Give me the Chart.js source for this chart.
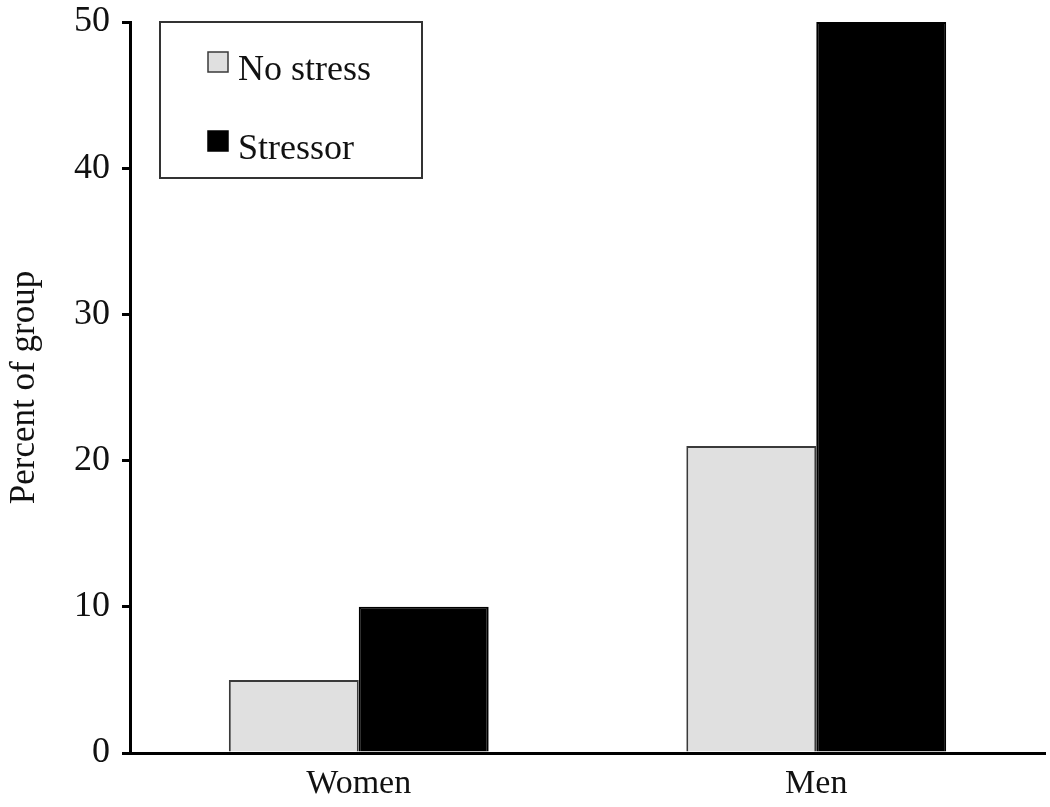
<!DOCTYPE html>
<html>
<head>
<meta charset="utf-8">
<script src="https://cdn.jsdelivr.net/npm/chart.js@4/dist/chart.umd.min.js"></script>
<style>
  html, body { margin: 0; padding: 0; background: #fff; }
  #wrap { width: 1050px; height: 807px; position: relative; }
</style>
</head>
<body>
<div id="wrap"><canvas id="chart"></canvas></div>
<script>
const groups = ["Women", "Men"];
const noStress = [5, 21];
const stressor = [10, 50];
const yTicks = [0, 10, 20, 30, 40, 50];

const serif = "'Liberation Serif', 'DejaVu Serif', serif";

// legend drawn inside the plot, in a framed box top-left
const boxLegend = {
  id: "boxLegend",
  afterDraw(chart) {
    const ctx = chart.ctx;
    ctx.save();
    ctx.fillStyle = "#fff";
    ctx.fillRect(160, 22, 262, 156);
    ctx.strokeStyle = "#333";
    ctx.lineWidth = 2;
    ctx.strokeRect(160, 22, 262, 156);
    ctx.font = "36px " + serif;
    ctx.textBaseline = "alphabetic";
    chart.data.datasets.forEach((ds, i) => {
      const y = 52 + i * 79;
      ctx.fillStyle = ds.backgroundColor;
      ctx.fillRect(208, y, 20, 20);
      ctx.strokeStyle = ds.borderColor;
      ctx.lineWidth = 1.5;
      ctx.strokeRect(208, y, 20, 20);
      ctx.fillStyle = "#111";
      ctx.fillText(ds.label, 238, y + 28);
    });
    ctx.restore();
  }
};

new Chart(document.getElementById("chart"), {
  type: "bar",
  data: {
    labels: groups,
    datasets: [
      { label: "No stress", data: noStress, backgroundColor: "#e0e0e0", borderColor: "#3a3a3a", borderWidth: 2 },
      { label: "Stressor", data: stressor, backgroundColor: "#000", borderColor: "#000", borderWidth: 2 }
    ]
  },
  options: {
    responsive: true,
    maintainAspectRatio: false,
    animation: false,
    layout: { padding: { top: 22, right: 5, left: 0, bottom: 0 } },
    datasets: { bar: { barPercentage: 1, categoryPercentage: 0.568 } },
    plugins: { legend: { display: false }, tooltip: { enabled: false } },
    scales: {
      x: {
        grid: { display: false },
        border: { display: true, color: "#000", width: 3 },
        ticks: { color: "#111", font: { family: serif, size: 34 }, padding: 3 },
        afterFit: s => { s.height = 54; s.paddingLeft = 0; s.paddingRight = 0; }
      },
      y: {
        min: 0,
        max: 50,
        afterBuildTicks: s => { s.ticks = yTicks.map(v => ({ value: v })); },
        grid: { drawOnChartArea: false, drawTicks: true, tickLength: 8, color: "#000", lineWidth: 3 },
        border: { display: true, color: "#000", width: 3 },
        ticks: { color: "#111", font: { family: serif, size: 36 }, padding: 12 },
        title: { display: true, text: "Percent of group", color: "#111", font: { family: serif, size: 35 }, padding: { top: 4, bottom: 0 } },
        afterFit: s => { s.width = 130; s.paddingTop = 0; s.paddingBottom = 0; }
      }
    }
  },
  plugins: [boxLegend]
});
</script>
</body>
</html>
